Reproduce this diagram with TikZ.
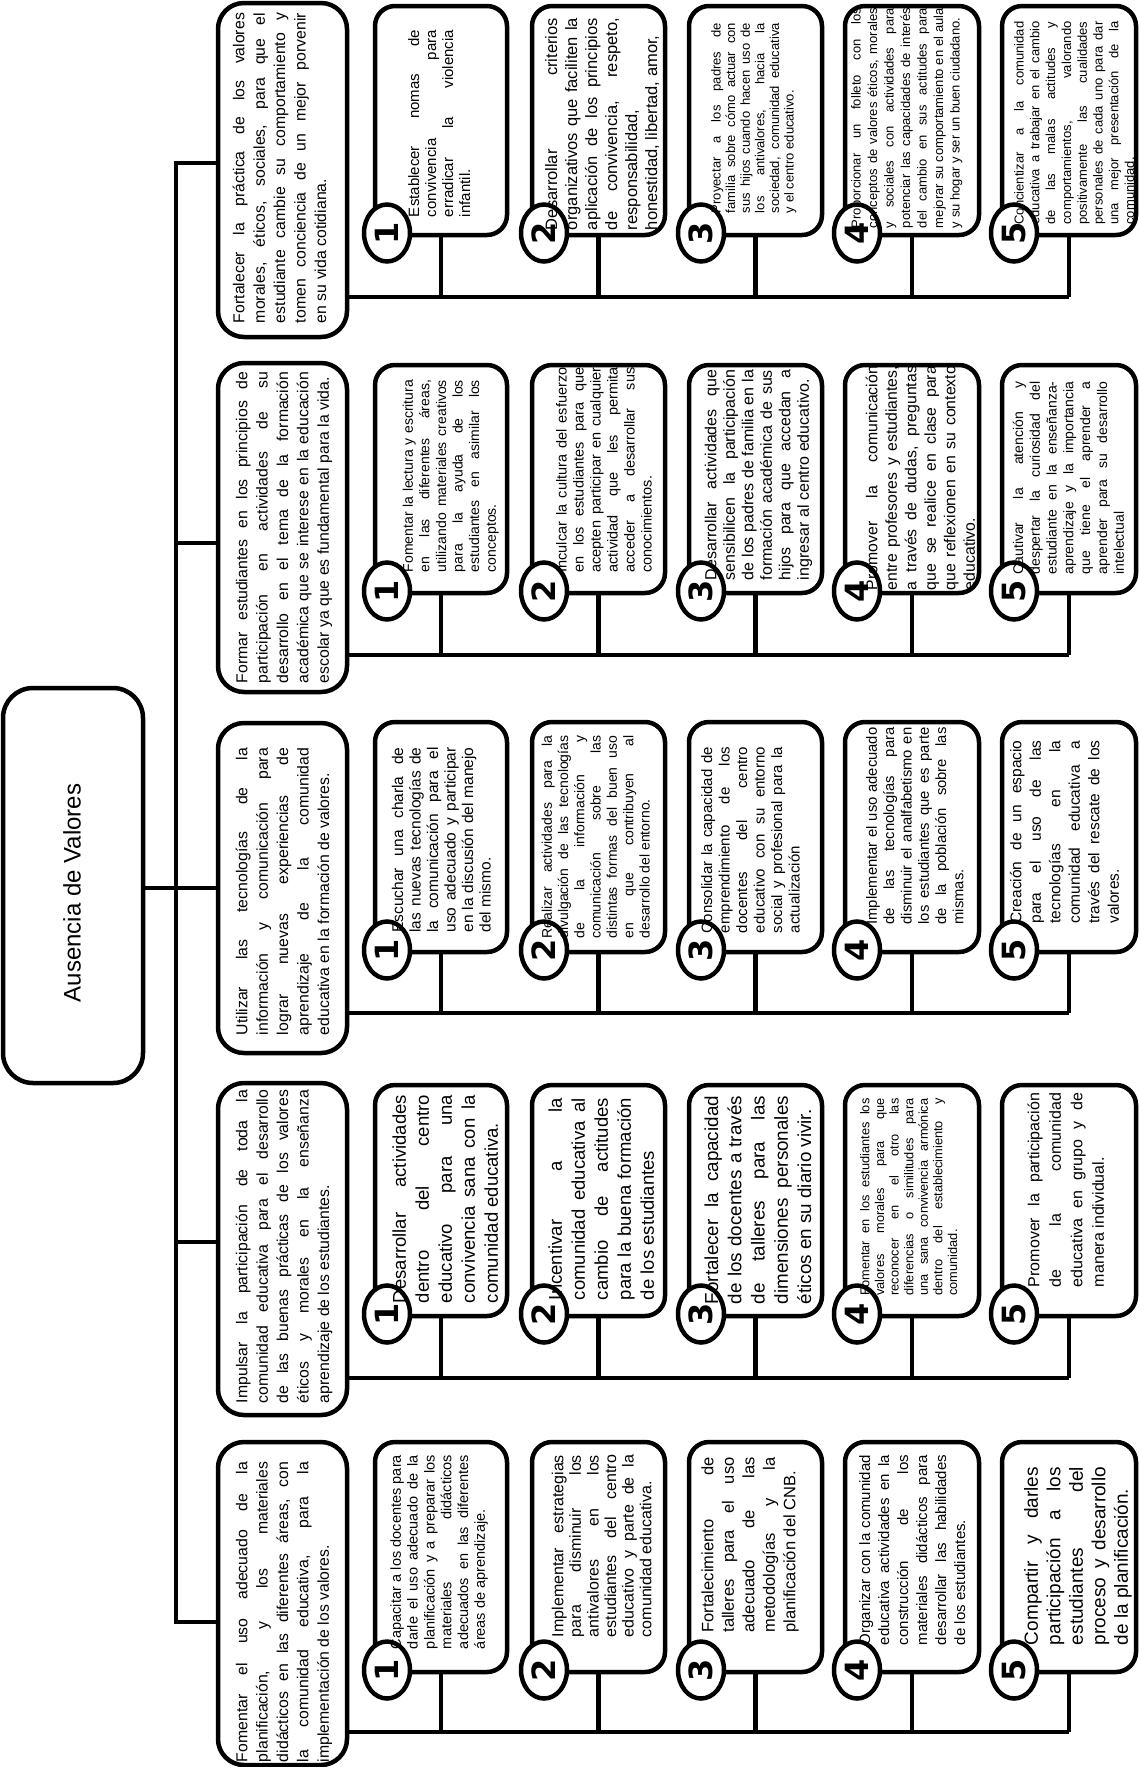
\documentclass[tikz,border=0pt]{standalone}
\usepackage{fontspec}
\setmainfont{Liberation Sans}
\newfontfamily\numfont{DejaVu Sans}
\usetikzlibrary{shapes.geometric,fit}
\hyphenpenalty=10000 \exhyphenpenalty=10000 \tolerance=10000 \pretolerance=-1 \hbadness=10000
\tikzset{
  ln/.style={line width=4.5pt},
  bx/.style={draw, fill=white, line width=4.5pt, rounded corners=20pt, inner sep=0pt},
  obx/.style={bx, rounded corners=26pt},
  circ/.style={draw, fill=white, line width=4.5pt, ellipse, rotate=90, minimum width=57pt, minimum height=46pt, inner sep=0pt, font=\numfont\bfseries\fontsize{32}{32}\selectfont},
  txt/.style={rotate=90, anchor=north, inner sep=0pt, align=justify},
}
\newcommand\tx[7]{\node[txt, text width=#4pt, font=\fontsize{#5}{#6}\selectfont] (#1) at (#2,#3) {#7};}
\begin{document}
\begin{tikzpicture}[x=1pt,y=-1pt]
\useasboundingbox (0,0) rectangle (1138,1767);
% junctions on main line
\coordinate (j5) at (176,163);
\coordinate (j4) at (176,543);
\coordinate (j3) at (176,888);
\coordinate (j2) at (176,1242);
\coordinate (j1) at (176,1622);
\coordinate (bus5) at (0,297);
\coordinate (bus4) at (0,655);
\coordinate (bus3) at (0,1013);
\coordinate (bus2) at (0,1378);
\coordinate (bus1) at (0,1732);
% root and objectives (geometry only, drawn later)
\path (3,688) coordinate (r1) (143,1083) coordinate (r2);
\draw[ln] (218,163) -- (j5) -- (j1) -- (218,1622);
\draw[ln] (j4) -- (218,543);
\draw[ln] (143,888) -- (218,888);
\draw[ln] (j2) -- (218,1242);
\node[obx, rounded corners=30pt, fit={(r1) (r2)}] (root) {};
\node[obx, fit={(218,3) (347,337)}] (o5) {};
\node[obx, fit={(218,363) (347,692)}] (o4) {};
\node[obx, fit={(218,723) (347,1053)}] (o3) {};
\node[obx, fit={(218,1083) (347,1415)}] (o2) {};
\node[obx, fit={(218,1442) (347,1765)}] (o1) {};
\foreach \g/\t/\b in {5/6/235, 4/365/593, 3/722/952, 2/1085/1316, 1/1442/1672} {
  \foreach \i/\l/\r in {1/375/507, 2/532/665, 3/689/822, 4/845/979, 5/1002/1136} {
    \node[bx, fit={(\l,\t) (\r,\b)}] (b\g\i) {};
    \draw[ln] (b\g\i.south) -- (b\g\i.south |- bus\g);
    \node[circ] (c\g\i) at (\l+12,\b-2) {\i};
  }
  \draw[ln] (o\g.east |- bus\g) -- (b\g5.south |- bus\g);
}
% root text
\node[rotate=90, inner sep=0pt, font=\fontsize{24}{28}\selectfont] (rt) at (72,893) {Ausencia de Valores};
% objective texts
\tx{to5}{232.6}{168}{310}{15.8}{20.4}{Fortalecer la práctica de los valores\linebreak morales, éticos, sociales, para que el\linebreak estudiante cambie su comportamiento y\linebreak tomen conciencia de un mejor porvenir\linebreak en su vida cotidiana.}
\tx{to4}{235.6}{527.5}{311}{15.8}{20.4}{Formar estudiantes en los principios de\linebreak participación en actividades de su\linebreak desarrollo en el tema de la formación\linebreak académica que se interese en la educación\linebreak escolar ya que es fundamental para la vida.}
\tx{to3}{235.6}{891.5}{287}{15.8}{20.4}{Utilizar las tecnologías de la\linebreak información y comunicación para\linebreak lograr nuevas experiencias de\linebreak aprendizaje de la comunidad\linebreak educativa en la formación de valores.}
\tx{to2}{235.6}{1246.5}{313}{15.8}{20.4}{Impulsar la participación de toda la\linebreak comunidad educativa para el desarrollo\linebreak de las buenas prácticas de los valores\linebreak éticos y morales en la enseñanza\linebreak aprendizaje de los estudiantes.}
\tx{to1}{235.6}{1612}{300}{15.8}{20.4}{Fomentar el uso adecuado de la\linebreak planificación, y los materiales\linebreak didácticos en las diferentes áreas, con\linebreak la comunidad educativa, para la\linebreak implementación de los valores.}
% group 5
\tx{t51}{408}{123.5}{187}{15}{17}{Establecer nomas de\linebreak convivencia para\linebreak erradicar la violencia\linebreak infantil.}
\tx{t52}{545}{124}{212}{16.5}{20}{Desarrollar criterios\linebreak organizativos que faciliten la\linebreak aplicación de los principios\linebreak de convivencia, respeto,\linebreak responsabilidad,\linebreak honestidad, libertad, amor,}
\tx{t53}{711}{118}{190}{13}{14.6}{Proyectar a los padres de\linebreak familia sobre cómo actuar con\linebreak sus hijos cuando hacen uso de\linebreak los antivalores, hacia la\linebreak sociedad, comunidad educativa\linebreak y el centro educativo.}
\tx{t54}{851}{118}{220}{13}{16.5}{Proporcionar un folleto con los\linebreak conceptos de valores éticos, morales\linebreak y sociales con actividades para\linebreak potenciar las capacidades de interés\linebreak del cambio en sus actitudes para\linebreak mejorar su comportamiento en el aula\linebreak y su hogar y ser un buen ciudadano.}
\tx{t55}{1014}{123}{203}{13}{15.8}{Concientizar a la comunidad\linebreak educativa a trabajar en el cambio\linebreak de las malas actitudes y\linebreak comportamientos, valorando\linebreak positivamente las cualidades\linebreak personales de cada uno para dar\linebreak una mejor presentación de la\linebreak comunidad.}
% group 4
\tx{t41}{402.5}{476}{192}{14}{16.6}{Fomentar la lectura y escritura\linebreak en las diferentes áreas,\linebreak utilizando materiales creativos\linebreak para la ayuda de los\linebreak estudiantes en asimilar los\linebreak conceptos.}
\tx{t42}{556}{470}{205}{14.5}{17}{Inculcar la cultura del esfuerzo\linebreak en los estudiantes para que\linebreak acepten participar en cualquier\linebreak actividad que les permita\linebreak acceder a desarrollar sus\linebreak conocimientos.}
\tx{t43}{704.5}{475}{210}{16}{18.5}{Desarrollar actividades que\linebreak sensibilicen la participación\linebreak de los padres de familia en la\linebreak formación académica de sus\linebreak hijos para que accedan a\linebreak ingresar al centro educativo.}
\tx{t44}{865.5}{478}{224}{15.8}{19.5}{Promover la comunicación\linebreak entre profesores y estudiantes,\linebreak a través de dudas, preguntas\linebreak que se realice en clase para\linebreak que reflexionen en su contexto\linebreak educativo.}
\tx{t45}{1012.5}{478}{193}{14}{16.8}{Cautivar la atención y\linebreak despertar la curiosidad del\linebreak estudiante en la enseñanza-\linebreak aprendizaje y la importancia\linebreak que tiene el aprender a\linebreak aprender para su desarrollo\linebreak intelectual}
% group 3
\tx{t31}{391.7}{840}{185}{15.5}{17.5}{Escuchar una charla de\linebreak las nuevas tecnologías de\linebreak la comunicación para el\linebreak uso adecuado y participar\linebreak en la discusión del manejo\linebreak del mismo.}
\tx{t32}{541.4}{837}{203}{14}{16.3}{Realizar actividades para la\linebreak divulgación de las tecnologías\linebreak de la información y\linebreak comunicación sobre las\linebreak distintas formas del buen uso\linebreak en que contribuyen al\linebreak desarrollo del entorno.}
\tx{t33}{701}{840}{186}{15}{17.5}{Consolidar la capacidad de\linebreak emprendimiento de los\linebreak docentes del centro\linebreak educativo con su entorno\linebreak social y profesional para la\linebreak actualización}
\tx{t34}{866}{826}{197}{14.8}{17.3}{Implementar el uso adecuado\linebreak de las tecnologías para\linebreak disminuir el analfabetismo en\linebreak los estudiantes que es parte\linebreak de la población sobre las\linebreak mismas.}
\tx{t35}{1009.7}{832}{183}{15.5}{19.5}{Creación de un espacio\linebreak para el uso de las\linebreak tecnologías en la\linebreak comunidad educativa a\linebreak través del rescate de los\linebreak valores.}
% group 2
\tx{t21}{392.3}{1199}{208}{18.5}{23}{Desarrollar actividades\linebreak dentro del centro\linebreak educativo para una\linebreak convivencia sana con la\linebreak comunidad educativa.}
\tx{t22}{548.3}{1199}{202}{18.5}{23}{Incentivar a la\linebreak comunidad educativa al\linebreak cambio de actitudes\linebreak para la buena formación\linebreak de los estudiantes}
\tx{t23}{704.2}{1200}{208}{18.8}{23.3}{Fortalecer la capacidad\linebreak de los docentes a través\linebreak de talleres para las\linebreak dimensiones personales\linebreak éticos en su diario vivir.}
\tx{t24}{860}{1197}{197}{12.8}{14.6}{Fomentar en los estudiantes los\linebreak valores morales para que\linebreak reconocer en el otro las\linebreak diferencias o similitudes para\linebreak una sana convivencia armónica\linebreak dentro del establecimiento y\linebreak comunidad.}
\tx{t25}{1027.5}{1190}{194}{16}{21.5}{Promover la participación\linebreak de la comunidad\linebreak educativa en grupo y de\linebreak manera individual.}
% group 1
\tx{t11}{390.2}{1552}{194}{14.5}{16.8}{Capacitar a los docentes para\linebreak darle el uso adecuado de la\linebreak planificación y a preparar los\linebreak materiales didácticos\linebreak adecuados en las diferentes\linebreak áreas de aprendizaje.}
\tx{t12}{551.5}{1546}{182}{16}{17.6}{Implementar estrategias\linebreak para disminuir los\linebreak antivalores en los\linebreak estudiantes del centro\linebreak educativo y parte de la\linebreak comunidad educativa.}
\tx{t13}{701.2}{1545}{175}{16.5}{20.5}{Fortalecimiento de\linebreak talleres para el uso\linebreak adecuado de las\linebreak metodologías y la\linebreak planificación del CNB.}
\tx{t14}{859}{1550}{190}{15}{19}{Organizar con la comunidad\linebreak educativa actividades en la\linebreak construcción de los\linebreak materiales didácticos para\linebreak desarrollar las habilidades\linebreak de los estudiantes.}
\tx{t15}{1024}{1556}{178}{19}{22.5}{Compartir y darles\linebreak participación a los\linebreak estudiantes del\linebreak proceso y desarrollo\linebreak de la planificación.}
\end{tikzpicture}
\end{document}
